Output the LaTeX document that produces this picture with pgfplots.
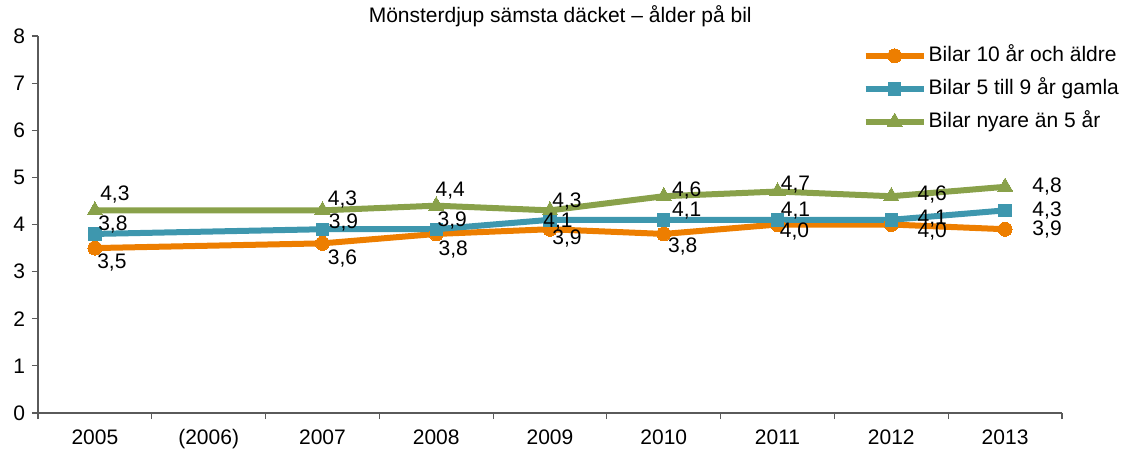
\documentclass[border=0pt]{standalone}
\usepackage{fontspec}
\setmainfont{Liberation Sans}
\usepackage{pgfplots}
\usepackage{pgfplotstable}
\pgfplotsset{compat=1.18}

\definecolor{cOrange}{RGB}{237,126,0}
\definecolor{cBlue}{RGB}{62,151,174}
\definecolor{cGreen}{RGB}{137,161,74}
\definecolor{cAxis}{RGB}{90,90,90}

% x = category index (0 = 2005, 1 = (2006), ...); dx/dy = label offset in px
\pgfplotstableread{
x y label dx dy
0 3.5 3,5 2 14
2 3.6 3,6 5 15
3 3.8 3,8 2 16
4 3.9 3,9 2 9
5 3.8 3,8 4 13
6 4.0 4,0 2 7
7 4.0 4,0 26 7
8 3.9 3,9 27 0
}\orange

\pgfplotstableread{
x y label dx dy
0 3.8 3,8 3 -9
2 3.9 3,9 6 -7
3 3.9 3,9 1 -9
4 4.1 4,1 -7 2
5 4.1 4,1 8 -9
6 4.1 4,1 3 -9
7 4.1 4,1 26 -1
8 4.3 4,3 27 0
}\blue

\pgfplotstableread{
x y label dx dy
0 4.3 4,3 5 -16
2 4.3 4,3 5 -11
3 4.4 4,4 -1 -15
4 4.3 4,3 2 -9
5 4.6 4,6 8 -6
6 4.7 4,7 3 -7
7 4.6 4,6 26 -2
8 4.8 4,8 27 0
}\green

\newcommand{\chartfont}{\fontsize{10.5}{12.6}\selectfont}

\pgfplotsset{
  vlabels/.style={
    draw=none, mark=none, forget plot,
    point meta=explicit symbolic,
    visualization depends on={\thisrow{dx} \as \dx},
    visualization depends on={\thisrow{dy} \as \dy},
    nodes near coords,
    nodes near coords style={anchor=west, inner sep=0pt, font=\chartfont,
      text=black, xshift={\dx*0.5pt}, yshift={-\dy*0.5pt}},
  },
}

\begin{document}
\begin{tikzpicture}
\path[use as bounding box] (-19pt,-19.5pt) rectangle (541.5pt,206.5pt);
\begin{axis}[
    at={(0,0)}, anchor=south west,
    width=512pt, height=188.5pt,
    scale only axis,
    clip=false,
    xmin=-0.5, xmax=8.5,
    ymin=0, ymax=8,
    axis x line*=bottom,
    axis y line*=left,
    axis line style={cAxis, line width=0.6pt},
    tick style={cAxis, line width=0.6pt},
    tick align=outside,
    major tick length=3pt,
    xtick={-0.5,0.5,...,8.5},
    x tick label as interval,
    xticklabels={2005,(2006),2007,2008,2009,2010,2011,2012,2013},
    ytick={0,1,...,8},
    tick label style={font=\chartfont},
    xticklabel style={anchor=north, text height=7.6pt, text depth=2.2pt, yshift=-1.5pt},
    /pgf/number format/assume math mode=true,
    every axis title shift=0pt,
    title={Mönsterdjup sämsta däcket – ålder på bil},
    title style={font=\chartfont, at={(0.51,1)}, anchor=base, yshift=6.75pt},
    legend style={at={(0.805,0.979)}, anchor=north west, draw=none, fill=none,
      font=\chartfont, inner sep=0pt, row sep=5pt,
      nodes={inner sep=1pt, text height=7.5pt, text depth=2pt}},
    legend cell align=left,
    legend image code/.code={
      \draw[mark repeat=2,mark phase=2] plot coordinates {(0pt,0pt) (14.5pt,0pt) (29pt,0pt)};
    },
]
\addplot[cOrange, line width=3pt, mark=*, mark size=3.5pt,
  mark options={solid, fill=cOrange, draw=cOrange, line width=0pt}]
  table[x=x, y=y] {\orange};
\addlegendentry{Bilar 10 år och äldre}

\addplot[cBlue, line width=3pt, mark=square*, mark size=3.1pt,
  mark options={solid, fill=cBlue, draw=cBlue, line width=0pt}]
  table[x=x, y=y] {\blue};
\addlegendentry{Bilar 5 till 9 år gamla}

\addplot[cGreen, line width=3pt, mark=triangle*, mark size=4.4pt,
  mark options={solid, fill=cGreen, draw=cGreen, line width=0pt}]
  table[x=x, y=y] {\green};
\addlegendentry{Bilar nyare än 5 år}

% value labels on top of all lines
\addplot[vlabels] table[x=x, y=y, meta=label] {\orange};
\addplot[vlabels] table[x=x, y=y, meta=label] {\blue};
\addplot[vlabels] table[x=x, y=y, meta=label] {\green};
\end{axis}
\end{tikzpicture}
\end{document}
